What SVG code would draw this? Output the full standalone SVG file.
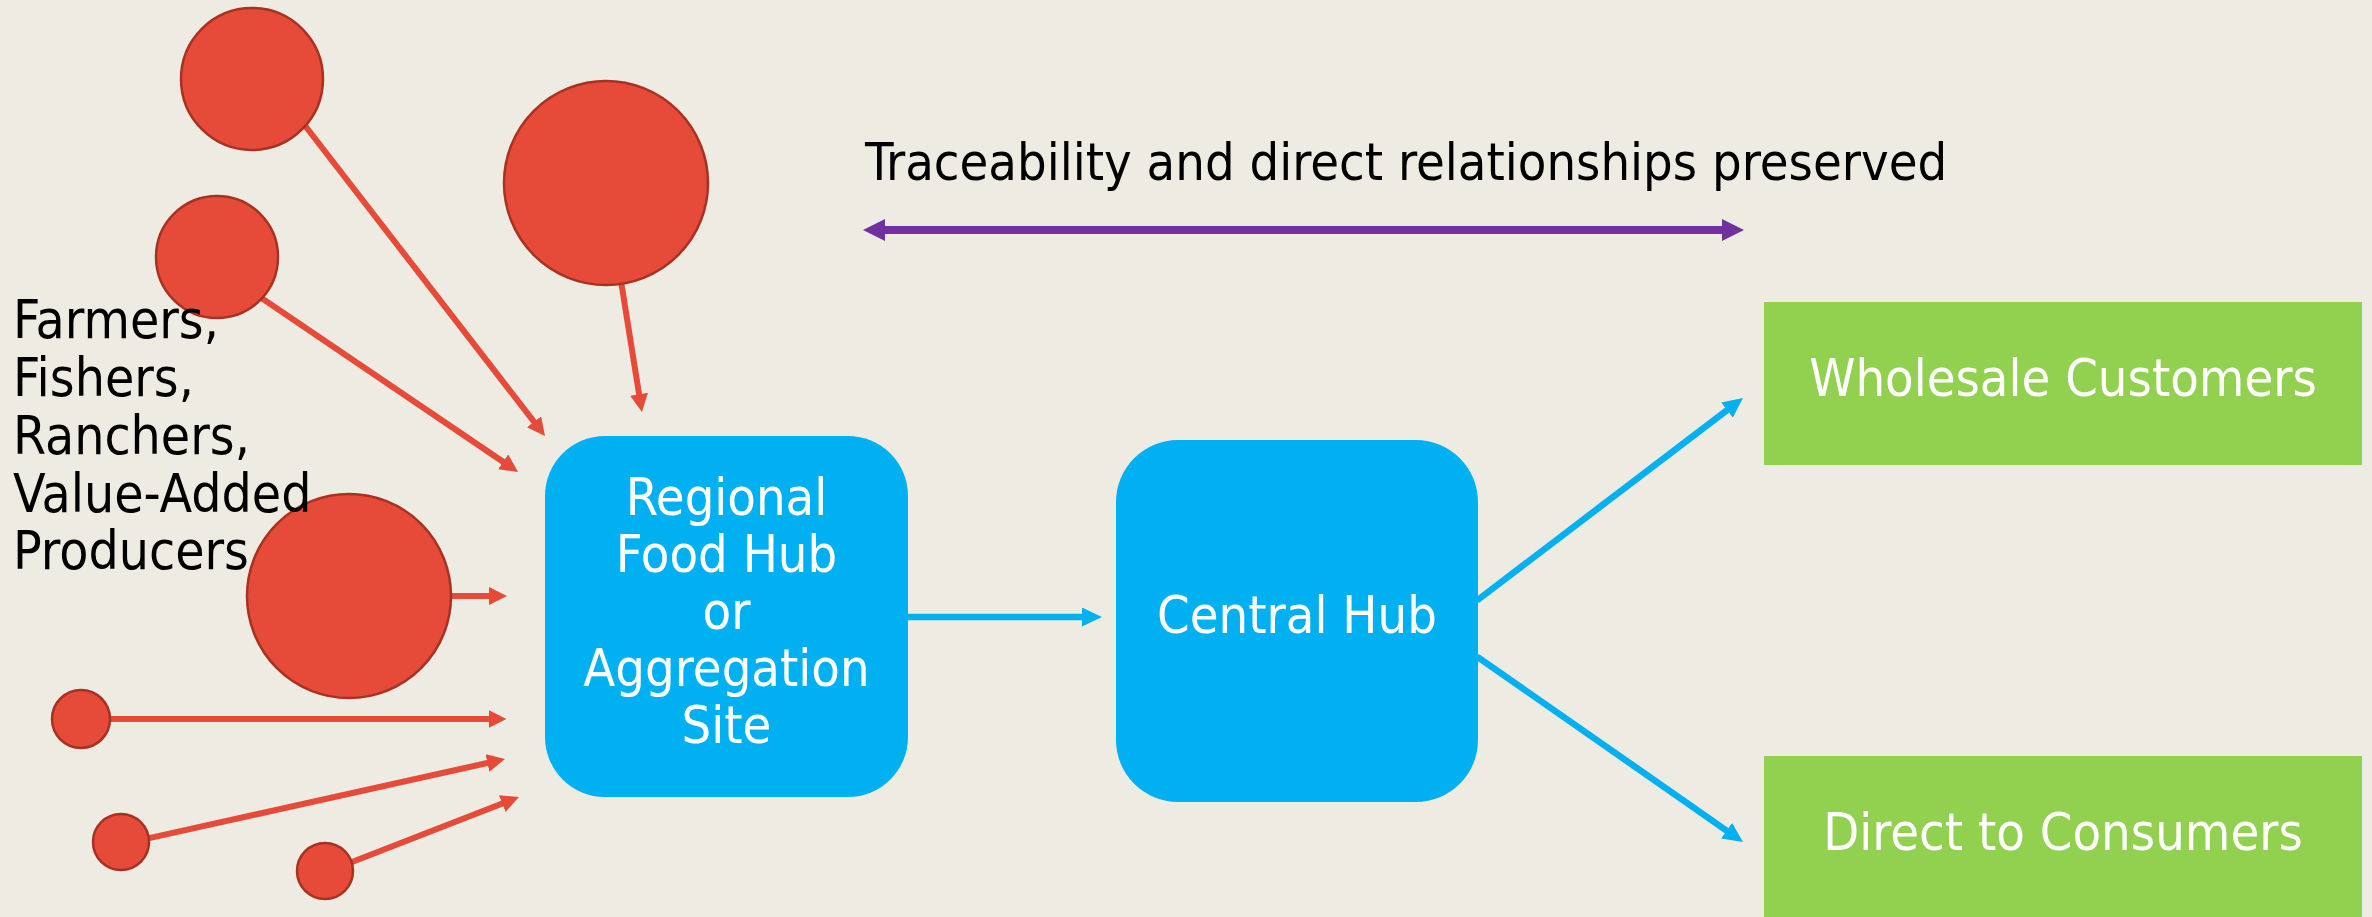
<svg xmlns="http://www.w3.org/2000/svg" width="2372" height="917" viewBox="0 0 2372 917">
<style>
.bg{fill:#EEEBE3}
.prod{fill:#E64A38;stroke:#A83222;stroke-width:2.5}
.hub{fill:#00B0F0}
.cust{fill:#92D050}
.red{stroke:#E64A38;stroke-width:6;fill:none}
.blue{stroke:#00B0F0;stroke-width:6.5;fill:none}
.purple{stroke:#7030A0;stroke-width:8;fill:none}
text{font-family:"DejaVu Sans Condensed","DejaVu Sans",sans-serif;font-stretch:condensed;font-size:52px}
.w{fill:#FFFFFF;text-anchor:middle}
.k{fill:#000000}
.lft{font-size:53px}
</style>
<defs>
<marker id="ar" markerUnits="userSpaceOnUse" markerWidth="18" markerHeight="18" refX="9" refY="9" orient="auto" viewBox="0 0 18 18">
<path d="M0,0 L18,9 L0,18 Z" fill="#E64A38"/>
</marker>
<marker id="ab" markerUnits="userSpaceOnUse" markerWidth="20" markerHeight="19" refX="10" refY="9.5" orient="auto" viewBox="0 0 20 19">
<path d="M0,0 L20,9.5 L0,19 Z" fill="#00B0F0"/>
</marker>
<marker id="ap" markerUnits="userSpaceOnUse" markerWidth="22" markerHeight="22" refX="11" refY="11" orient="auto-start-reverse" viewBox="0 0 22 22">
<path d="M0,0 L22,11 L0,22 Z" fill="#7030A0"/>
</marker>
</defs>
<rect class="bg" x="0" y="0" width="2372" height="917"/>
<g id="connectors">
<line class="red" x1="303" y1="123" x2="539.5" y2="428.9" marker-end="url(#ar)"/>
<line class="red" x1="260" y1="297" x2="510.6" y2="466.9" marker-end="url(#ar)"/>
<line class="red" x1="621" y1="281" x2="640.5" y2="403.1" marker-end="url(#ar)"/>
<line class="red" x1="449" y1="596" x2="498" y2="596" marker-end="url(#ar)"/>
<line class="red" x1="108" y1="719" x2="497.5" y2="719" marker-end="url(#ar)"/>
<line class="red" x1="148" y1="838.4" x2="496.2" y2="761.0" marker-end="url(#ar)"/>
<line class="red" x1="350" y1="862.8" x2="510.6" y2="800.3" marker-end="url(#ar)"/>
<line class="blue" x1="906" y1="617" x2="1092" y2="617" marker-end="url(#ab)"/>
<line class="blue" x1="1477" y1="600.5" x2="1735.0" y2="404.1" marker-end="url(#ab)"/>
<line class="blue" x1="1477" y1="656.6" x2="1734.8" y2="836.3" marker-end="url(#ab)"/>
<line class="purple" x1="874" y1="230" x2="1733" y2="230" marker-start="url(#ap)" marker-end="url(#ap)"/>
</g>
<g id="producer1"><circle class="prod" cx="252" cy="79" r="71"/></g>
<g id="producer2"><circle class="prod" cx="606" cy="183" r="102"/></g>
<g id="producer3"><circle class="prod" cx="217" cy="257" r="61"/></g>
<g id="producer4"><circle class="prod" cx="349" cy="596" r="102"/></g>
<g id="producer5"><circle class="prod" cx="81" cy="719" r="29"/></g>
<g id="producer6"><circle class="prod" cx="121" cy="842" r="28"/></g>
<g id="producer7"><circle class="prod" cx="325" cy="871" r="28"/></g>
<g id="producers-label">
<text class="k lft" x="13" y="338">Farmers,</text>
<text class="k lft" x="13" y="396">Fishers,</text>
<text class="k lft" x="13" y="454">Ranchers,</text>
<text class="k lft" x="13" y="512">Value-Added</text>
<text class="k lft" x="13" y="569">Producers</text>
</g>
<g id="traceability-label">
<text class="k" x="865" y="180">Traceability and direct relationships preserved</text>
</g>
<g id="regional-hub">
<rect class="hub" x="545" y="436" width="363" height="361" rx="60" ry="60"/>
<text class="w" x="726.5" y="515">Regional</text>
<text class="w" x="726.5" y="572">Food Hub</text>
<text class="w" x="726.5" y="629">or</text>
<text class="w" x="726.5" y="686">Aggregation</text>
<text class="w" x="726.5" y="743">Site</text>
</g>
<g id="central-hub">
<rect class="hub" x="1116" y="440" width="362" height="362" rx="62" ry="62"/>
<text class="w" x="1297" y="633">Central Hub</text>
</g>
<g id="wholesale">
<rect class="cust" x="1764" y="302" width="598" height="163"/>
<text class="w" x="2063" y="396">Wholesale Customers</text>
</g>
<g id="direct">
<rect class="cust" x="1764" y="756" width="598" height="161"/>
<text class="w" x="2063" y="850">Direct to Consumers</text>
</g>
</svg>
